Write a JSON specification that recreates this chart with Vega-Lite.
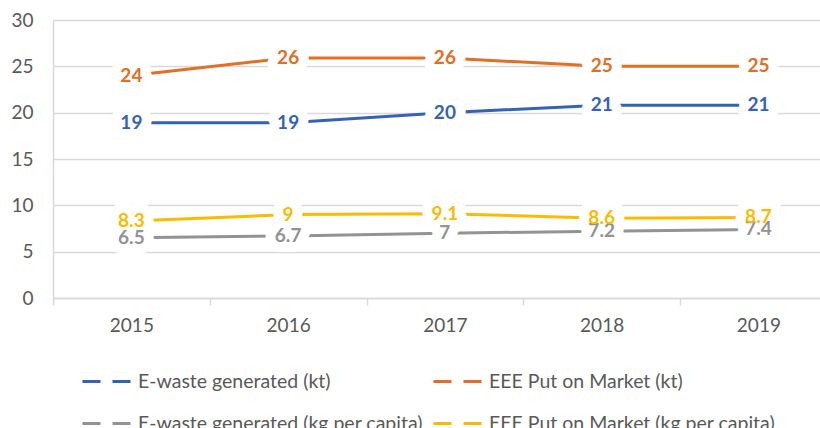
{
  "$schema": "https://vega.github.io/schema/vega-lite/v6.json",
  "width": 767,
  "height": 278,
  "autosize": "none",
  "padding": {"left": 53, "top": 20, "right": 0, "bottom": 130},
  "background": "white",
  "config": {"font": "Lato", "view": {"stroke": null}},
  "data": {
    "values": [
      {"year": 2015, "series": "E-waste generated (kt)", "value": 18.9},
      {"year": 2016, "series": "E-waste generated (kt)", "value": 18.9},
      {"year": 2017, "series": "E-waste generated (kt)", "value": 20.0},
      {"year": 2018, "series": "E-waste generated (kt)", "value": 20.8},
      {"year": 2019, "series": "E-waste generated (kt)", "value": 20.8},
      {"year": 2015, "series": "EEE Put on Market (kt)", "value": 24.0},
      {"year": 2016, "series": "EEE Put on Market (kt)", "value": 25.9},
      {"year": 2017, "series": "EEE Put on Market (kt)", "value": 25.9},
      {"year": 2018, "series": "EEE Put on Market (kt)", "value": 25.0},
      {"year": 2019, "series": "EEE Put on Market (kt)", "value": 25.0},
      {"year": 2015, "series": "E-waste generated (kg per capita)", "value": 6.5},
      {"year": 2016, "series": "E-waste generated (kg per capita)", "value": 6.7},
      {"year": 2017, "series": "E-waste generated (kg per capita)", "value": 7.0},
      {"year": 2018, "series": "E-waste generated (kg per capita)", "value": 7.2},
      {"year": 2019, "series": "E-waste generated (kg per capita)", "value": 7.4},
      {"year": 2015, "series": "EEE Put on Market (kg per capita)", "value": 8.3},
      {"year": 2016, "series": "EEE Put on Market (kg per capita)", "value": 9.0},
      {"year": 2017, "series": "EEE Put on Market (kg per capita)", "value": 9.1},
      {"year": 2018, "series": "EEE Put on Market (kg per capita)", "value": 8.6},
      {"year": 2019, "series": "EEE Put on Market (kg per capita)", "value": 8.7}
    ]
  },
  "encoding": {
    "x": {
      "field": "year",
      "type": "quantitative",
      "scale": {"domain": [2014.5, 2019.393], "nice": false, "zero": false},
      "axis": {
        "title": null,
        "grid": false,
        "values": [2014.5, 2015, 2015.5, 2016, 2016.5, 2017, 2017.5, 2018, 2018.5, 2019],
        "labelExpr": "datum.value % 1 == 0 ? '' + datum.value : ''",
        "labelOverlap": false,
        "labelFlush": false,
        "labelFontSize": 19,
        "labelFont": "Lato",
        "labelColor": "#595959",
        "labelPadding": 11,
        "tickSize": 7,
        "tickWidth": 1.5,
        "tickColor": {"condition": {"test": "datum.value % 1 == 0", "value": "transparent"}, "value": "#d9d9d9"},
        "domainColor": "#d9d9d9",
        "domainWidth": 1.5
      }
    },
    "y": {
      "field": "value",
      "type": "quantitative",
      "scale": {"domain": [0, 30], "nice": false},
      "axis": {
        "title": null,
        "values": [0, 5, 10, 15, 20, 25, 30],
        "grid": true,
        "gridColor": "#d9d9d9",
        "gridWidth": 1.5,
        "domain": true,
        "domainColor": "#d9d9d9",
        "domainWidth": 1.5,
        "ticks": false,
        "labelFontSize": 19,
        "labelFont": "Lato",
        "labelColor": "#595959",
        "labelPadding": 20
      }
    },
    "color": {
      "field": "series",
      "type": "nominal",
      "sort": null,
      "scale": {
        "domain": ["E-waste generated (kt)", "E-waste generated (kg per capita)", "EEE Put on Market (kt)", "EEE Put on Market (kg per capita)"],
        "range": ["#3462b9", "#939393", "#e46e23", "#fbbb00"]
      },
      "legend": {
        "orient": "none",
        "legendX": 28,
        "legendY": 336,
        "columns": 2,
        "title": null,
        "symbolType": "stroke",
        "symbolSize": 2304,
        "symbolStrokeWidth": 3,
        "symbolDash": [18, 12],
        "labelFontSize": 19.5,
        "labelFont": "Lato",
        "labelColor": "#595959",
        "labelOffset": 6,
        "labelLimit": 400,
        "rowPadding": 7,
        "columnPadding": 4,
        "padding": 0
      }
    }
  },
  "layer": [
    {"mark": {"type": "line", "strokeWidth": 3}},
    {
      "mark": {"type": "text", "font": "Lato", "fontWeight": "bold", "fontSize": 19, "baseline": "middle", "align": "center", "stroke": "white", "strokeWidth": 20, "strokeJoin": "round"},
      "encoding": {"text": {"field": "value", "format": ".2~r"}, "color": {"value": "white"}}
    },
    {
      "mark": {"type": "text", "font": "Lato", "fontWeight": "bold", "fontSize": 19, "baseline": "middle", "align": "center"},
      "encoding": {"text": {"field": "value", "format": ".2~r"}}
    }
  ]
}
